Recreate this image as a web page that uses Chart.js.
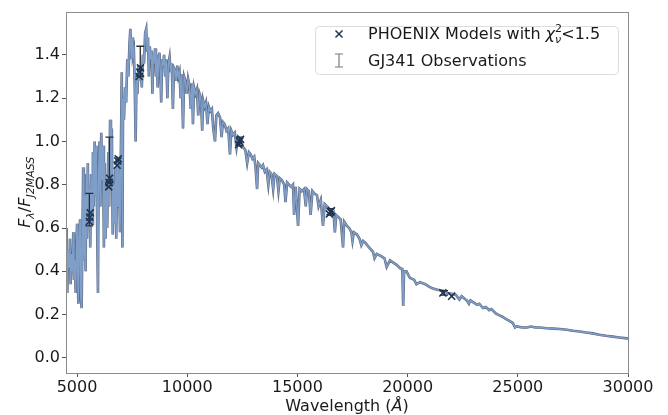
<!DOCTYPE html>
<html>
<head>
<meta charset="utf-8">
<script src="https://cdn.jsdelivr.net/npm/chart.js@4/dist/chart.umd.min.js"></script>
<style>
  html, body { margin: 0; padding: 0; background: #fff; }
  #wrap { width: 668px; height: 415px; position: relative; }
</style>
</head>
<body>
<div id="wrap"><canvas id="sedChart"></canvas></div>
<script>
// wavelength grid (Angstrom) and normalised flux of the model spectrum
const specWave = [
  4500, 4530, 4560, 4600, 4640, 4680, 4710, 4750, 4790, 4830, 4860, 4900, 4940, 4970,
  5000, 5030, 5060, 5100, 5140, 5170, 5210, 5250, 5280, 5310, 5350, 5390, 5420, 5450,
  5490, 5520, 5560, 5600, 5640, 5680, 5720, 5760, 5800, 5840, 5880, 5920, 5950, 5980,
  6020, 6060, 6100, 6140, 6180, 6220, 6260, 6290, 6330, 6370, 6420, 6460, 6500, 6540,
  6580, 6620, 6660, 6700, 6740, 6780, 6820, 6860, 6900, 6950, 6990, 7030, 7060, 7090,
  7130, 7180, 7230, 7280, 7330, 7380, 7420, 7460, 7500, 7540, 7580, 7620, 7660, 7700,
  7740, 7790, 7840, 7890, 7940, 7990, 8040, 8090, 8140, 8180, 8220, 8260, 8300, 8340,
  8380, 8420, 8460, 8500, 8540, 8580, 8620, 8660, 8700, 8740, 8780, 8820, 8860, 8900,
  8950, 9000, 9050, 9100, 9150, 9200, 9250, 9300, 9350, 9400, 9450, 9500, 9550, 9600,
  9650, 9700, 9750, 9810, 9860, 9920, 9980, 10040, 10100, 10160, 10220, 10260, 10310,
  10380, 10440, 10500, 10560, 10620, 10680, 10720, 10790, 10850, 10920, 10980, 11050,
  11120, 11180, 11260, 11320, 11400, 11490, 11560, 11620, 11700, 11780, 11860, 11940,
  12000, 12080, 12160, 12240, 12320, 12400, 12480, 12560, 12640, 12720, 12800, 12880,
  12960, 13040, 13100, 13170, 13220, 13300, 13380, 13440, 13520, 13600, 13680, 13740,
  13820, 13900, 13960, 14070, 14140, 14200, 14300, 14400, 14460, 14530, 14620, 14720,
  14800, 14850, 14920, 15030, 15100, 15200, 15300, 15380, 15430, 15520, 15600, 15680,
  15760, 15890, 15960, 16060, 16160, 16240, 16340, 16420, 16480, 16560, 16640, 16700,
  16760, 16860, 16960, 17070, 17120, 17250, 17350, 17450, 17500, 17560, 17700, 17820,
  17900, 17980, 18100, 18250, 18430, 18500, 18600, 18800, 18950, 19050, 19200, 19350,
  19500, 19650, 19760, 19800, 19840, 19950, 20100, 20300, 20400, 20560, 20800, 20950,
  21150, 21350, 21600, 21800, 22060, 22200, 22350, 22450, 22690, 22780, 22850, 23000,
  23150, 23250, 23420, 23550, 23700, 23800, 24000, 24190, 24300, 24450, 24640, 24780,
  24870, 24960, 25200, 25410, 25600, 25800, 26000, 26300, 26600, 26900, 27230, 27500,
  27800, 28100, 28400, 28700, 29000, 29300, 29600, 29950, 30000
];
const specFlux = [
  0.45, 0.60, 0.30, 0.50, 0.42, 0.55, 0.34, 0.48, 0.40, 0.58, 0.36, 0.45, 0.30, 0.50,
  0.62, 0.40, 0.25, 0.55, 0.64, 0.28, 0.23, 0.60, 0.88, 0.45, 0.75, 0.40, 0.85, 0.55,
  0.90, 0.60, 0.78, 0.51, 0.85, 0.62, 0.95, 0.70, 1.00, 0.75, 0.98, 0.55, 0.30, 0.85,
  1.00, 0.70, 1.04, 0.82, 0.98, 0.51, 0.90, 0.55, 0.78, 0.60, 0.95, 0.70, 1.10, 0.85,
  1.06, 0.57, 0.80, 0.62, 0.88, 0.55, 0.93, 0.70, 0.90, 0.58, 0.95, 1.32, 0.51, 1.20,
  1.10, 1.25, 1.18, 1.38, 1.30, 1.45, 1.52, 1.38, 1.48, 1.40, 1.42, 1.25, 1.00, 1.30,
  1.22, 1.35, 1.28, 1.34, 1.25, 1.40, 1.36, 1.50, 1.52, 1.42, 1.48, 1.30, 1.44, 1.38,
  1.42, 1.22, 1.40, 1.36, 1.43, 1.30, 1.40, 1.25, 1.38, 1.41, 1.32, 1.18, 1.38, 1.35,
  1.40, 1.30, 1.38, 1.20, 1.36, 1.39, 1.32, 1.36, 1.15, 1.34, 1.33, 1.28, 1.35, 1.30,
  1.32, 1.20, 1.31, 1.06, 1.30, 1.28, 1.22, 1.29, 1.26, 1.15, 1.27, 1.08, 1.25,
  1.22, 1.24, 1.12, 1.22, 1.20, 1.05, 1.19, 1.16, 1.18, 1.08, 1.16, 1.14,
  1.15, 1.06, 1.00, 1.12, 1.13, 1.11, 1.02, 1.09, 1.08, 1.05, 1.06, 0.94,
  1.05, 1.03, 1.04, 0.97, 1.02, 1.01, 0.98, 0.97, 0.96, 0.90, 0.95, 0.94,
  0.92, 0.93, 0.88, 0.78, 0.90, 0.89, 0.88, 0.89, 0.86, 0.87, 0.80, 0.86,
  0.85, 0.78, 0.85, 0.84, 0.77, 0.83, 0.82, 0.80, 0.72, 0.81, 0.80, 0.79,
  0.80, 0.66, 0.79, 0.61, 0.78, 0.77, 0.78, 0.70, 0.78, 0.77, 0.66, 0.77,
  0.76, 0.75, 0.70, 0.73, 0.61, 0.71, 0.70, 0.69, 0.68, 0.66, 0.67, 0.58,
  0.66, 0.65, 0.64, 0.51, 0.63, 0.61, 0.60, 0.58, 0.54, 0.58, 0.57, 0.55,
  0.52, 0.54, 0.53, 0.51, 0.49, 0.46, 0.48, 0.47, 0.46, 0.42, 0.45, 0.44,
  0.43, 0.415, 0.41, 0.24, 0.40, 0.40, 0.37, 0.36, 0.34, 0.35, 0.34, 0.33,
  0.32, 0.315, 0.31, 0.30, 0.295, 0.29, 0.27, 0.285, 0.265, 0.25, 0.265, 0.255,
  0.245, 0.25, 0.23, 0.235, 0.22, 0.225, 0.205, 0.195, 0.19, 0.18, 0.17, 0.16,
  0.14, 0.145, 0.14, 0.14, 0.145, 0.14, 0.14, 0.137, 0.135, 0.133, 0.13, 0.125,
  0.122, 0.117, 0.113, 0.107, 0.102, 0.098, 0.094, 0.09, 0.09
];

// PHOENIX model photometry (chi2 < 1.5)
const modelWave = [5560, 5580, 5600, 6440, 6460, 6480, 6820, 6850, 6870, 7820, 7850, 7880,
                   12330, 12380, 12420, 16450, 16500, 16540, 21600, 22000];
const modelFlux = [0.63, 0.65, 0.67, 0.79, 0.81, 0.83, 0.89, 0.91, 0.92, 1.30, 1.32, 1.34,
                   0.985, 1.00, 1.01, 0.665, 0.675, 0.68, 0.30, 0.285];

// GJ341 observed photometry with 1-sigma errors
const obsWave = [5560, 6470, 7870, 12380, 16500, 21650];
const obsFlux = [0.685, 0.915, 1.37, 1.00, 0.675, 0.30];
const obsErr  = [0.075, 0.105, 0.07, 0.02, 0.015, 0.01];

const xTicks = [5000, 10000, 15000, 20000, 25000, 30000];
const yTicks = [0.0, 0.2, 0.4, 0.6, 0.8, 1.0, 1.2, 1.4];

const FONT = "'DejaVu Sans', sans-serif";
const MARKER = "#1d3454";
const ERRCOL = "#2e2e2e";

const spectrum = specWave.map((w, i) => ({ x: w, y: specFlux[i] }));
const models = modelWave.map((w, i) => ({ x: w, y: modelFlux[i] }));

// draw a run of text pieces (normal/italic, sub/superscripts) starting at x
function drawPieces(ctx, pieces, x, y) {
    let cx = x;
    pieces.forEach(p => {
        ctx.font = (p.it ? "italic " : "") + p.size + "px " + FONT;
        ctx.fillText(p.t, cx, y + (p.dy || 0));
        if (!p.stack) cx += ctx.measureText(p.t).width;
    });
    return cx;
}
function piecesWidth(ctx, pieces) {
    let w = 0;
    pieces.forEach(p => {
        ctx.font = (p.it ? "italic " : "") + p.size + "px " + FONT;
        if (!p.stack) w += ctx.measureText(p.t).width;
    });
    return w;
}

// observation error bars go on top of the spectrum, under the model crosses
const errorBars = {
    id: "errorBars",
    afterDatasetDraw(chart, args) {
        if (args.index !== 1) return;
        const ctx = chart.ctx;
        const xs = chart.scales.x, ys = chart.scales.y;
        ctx.save();
        ctx.strokeStyle = ERRCOL;
        ctx.lineWidth = 1.3;
        obsWave.forEach((w, i) => {
            const px = xs.getPixelForValue(w);
            const top = ys.getPixelForValue(obsFlux[i] + obsErr[i]);
            const bot = ys.getPixelForValue(obsFlux[i] - obsErr[i]);
            ctx.beginPath();
            ctx.moveTo(px, top); ctx.lineTo(px, bot);
            ctx.moveTo(px - 4, top); ctx.lineTo(px + 4, top);
            ctx.moveTo(px - 4, bot); ctx.lineTo(px + 4, bot);
            ctx.stroke();
        });
        ctx.restore();
    }
};

const frameAndLabels = {
    id: "frameAndLabels",
    afterDraw(chart) {
        const ctx = chart.ctx;
        const a = chart.chartArea;
        ctx.save();
        // axes box
        ctx.strokeStyle = "#8c8c8c";
        ctx.lineWidth = 1;
        ctx.strokeRect(Math.round(a.left) + 0.5, Math.round(a.top) + 0.5,
                       Math.round(a.right - a.left), Math.round(a.bottom - a.top));

        ctx.fillStyle = "#1a1a1a";
        ctx.textBaseline = "alphabetic";

        // x label
        const xl = [
            { t: "Wavelength (", size: 16 },
            { t: "Å", size: 16, it: true },
            { t: ")", size: 16 }
        ];
        const xw = piecesWidth(ctx, xl);
        drawPieces(ctx, xl, (a.left + a.right) / 2 - xw / 2, 411);

        // y label
        const yl = [
            { t: "F", size: 16, it: true },
            { t: "λ", size: 11, it: true, dy: 4 },
            { t: "/", size: 16 },
            { t: "F", size: 16, it: true },
            { t: "J2MASS", size: 11, it: true, dy: 4 }
        ];
        const yw = piecesWidth(ctx, yl);
        ctx.save();
        ctx.translate(30, (a.top + a.bottom) / 2);
        ctx.rotate(-Math.PI / 2);
        drawPieces(ctx, yl, -yw / 2, 0);
        ctx.restore();

        // legend
        const lx = 315, ly = 26, lw = 303, lh = 48, r = 4;
        ctx.fillStyle = "rgba(255,255,255,0.8)";
        ctx.strokeStyle = "#dcdcdc";
        ctx.beginPath();
        ctx.roundRect(lx + 0.5, ly + 0.5, lw, lh, r);
        ctx.fill();
        ctx.stroke();

        // legend marker: x
        ctx.strokeStyle = MARKER;
        ctx.lineWidth = 1.5;
        const mx = 339, my = 34;
        ctx.beginPath();
        ctx.moveTo(mx - 3.5, my - 3.5); ctx.lineTo(mx + 3.5, my + 3.5);
        ctx.moveTo(mx - 3.5, my + 3.5); ctx.lineTo(mx + 3.5, my - 3.5);
        ctx.stroke();

        // legend marker: error bar
        ctx.strokeStyle = "#7a7a7a";
        ctx.lineWidth = 1.2;
        ctx.beginPath();
        ctx.moveTo(339, 54); ctx.lineTo(339, 67);
        ctx.moveTo(335, 54); ctx.lineTo(343, 54);
        ctx.moveTo(335, 67); ctx.lineTo(343, 67);
        ctx.stroke();

        ctx.fillStyle = "#1a1a1a";
        drawPieces(ctx, [
            { t: "PHOENIX Models with ", size: 16 },
            { t: "χ", size: 16, it: true },
            { t: "2", size: 11, dy: -7, stack: true },
            { t: "ν", size: 11, it: true, dy: 4 },
            { t: "<1.5", size: 16 }
        ], 368, 39);
        drawPieces(ctx, [{ t: "GJ341 Observations", size: 16 }], 368, 65.5);
        ctx.restore();
    }
};

new Chart(document.getElementById("sedChart"), {
    type: "scatter",
    data: {
        datasets: [
            {
                label: "spectrum (edge)",
                data: spectrum,
                showLine: true,
                borderColor: "#5d667c",
                borderWidth: 2.6,
                pointRadius: 0,
                tension: 0,
                order: 3
            },
            {
                label: "spectrum",
                data: spectrum,
                showLine: true,
                borderColor: "#7f9ec8",
                borderWidth: 1.5,
                pointRadius: 0,
                tension: 0,
                order: 2
            },
            {
                label: "PHOENIX Models",
                data: models,
                showLine: false,
                pointStyle: "crossRot",
                pointRadius: 5,
                borderColor: MARKER,
                backgroundColor: MARKER,
                borderWidth: 1.6,
                order: 1
            }
        ]
    },
    options: {
        responsive: true,
        maintainAspectRatio: false,
        animation: false,
        devicePixelRatio: 1,
        layout: { padding: { left: 0, right: 40, top: 7, bottom: 0 } },
        plugins: {
            legend: { display: false },
            tooltip: { enabled: false }
        },
        scales: {
            x: {
                type: "linear",
                min: 4500,
                max: 30000,
                border: { display: false },
                grid: { drawOnChartArea: false, drawTicks: true, tickLength: 4, color: "#555" },
                ticks: {
                    padding: 1,
                    color: "#1a1a1a",
                    font: { family: FONT, size: 16 },
                    maxRotation: 0,
                    callback: v => String(v)
                },
                afterBuildTicks: s => { s.ticks = xTicks.map(v => ({ value: v })); },
                afterFit: s => { s.height = 42; }
            },
            y: {
                type: "linear",
                min: -0.07,
                max: 1.6,
                border: { display: false },
                grid: { drawOnChartArea: false, drawTicks: true, tickLength: 4, color: "#555" },
                ticks: {
                    padding: 2,
                    color: "#1a1a1a",
                    font: { family: FONT, size: 16 },
                    callback: v => Number(v).toFixed(1)
                },
                afterBuildTicks: s => { s.ticks = yTicks.map(v => ({ value: v })); },
                afterFit: s => { s.width = 66; }
            }
        }
    },
    plugins: [errorBars, frameAndLabels]
});
</script>
</body>
</html>
